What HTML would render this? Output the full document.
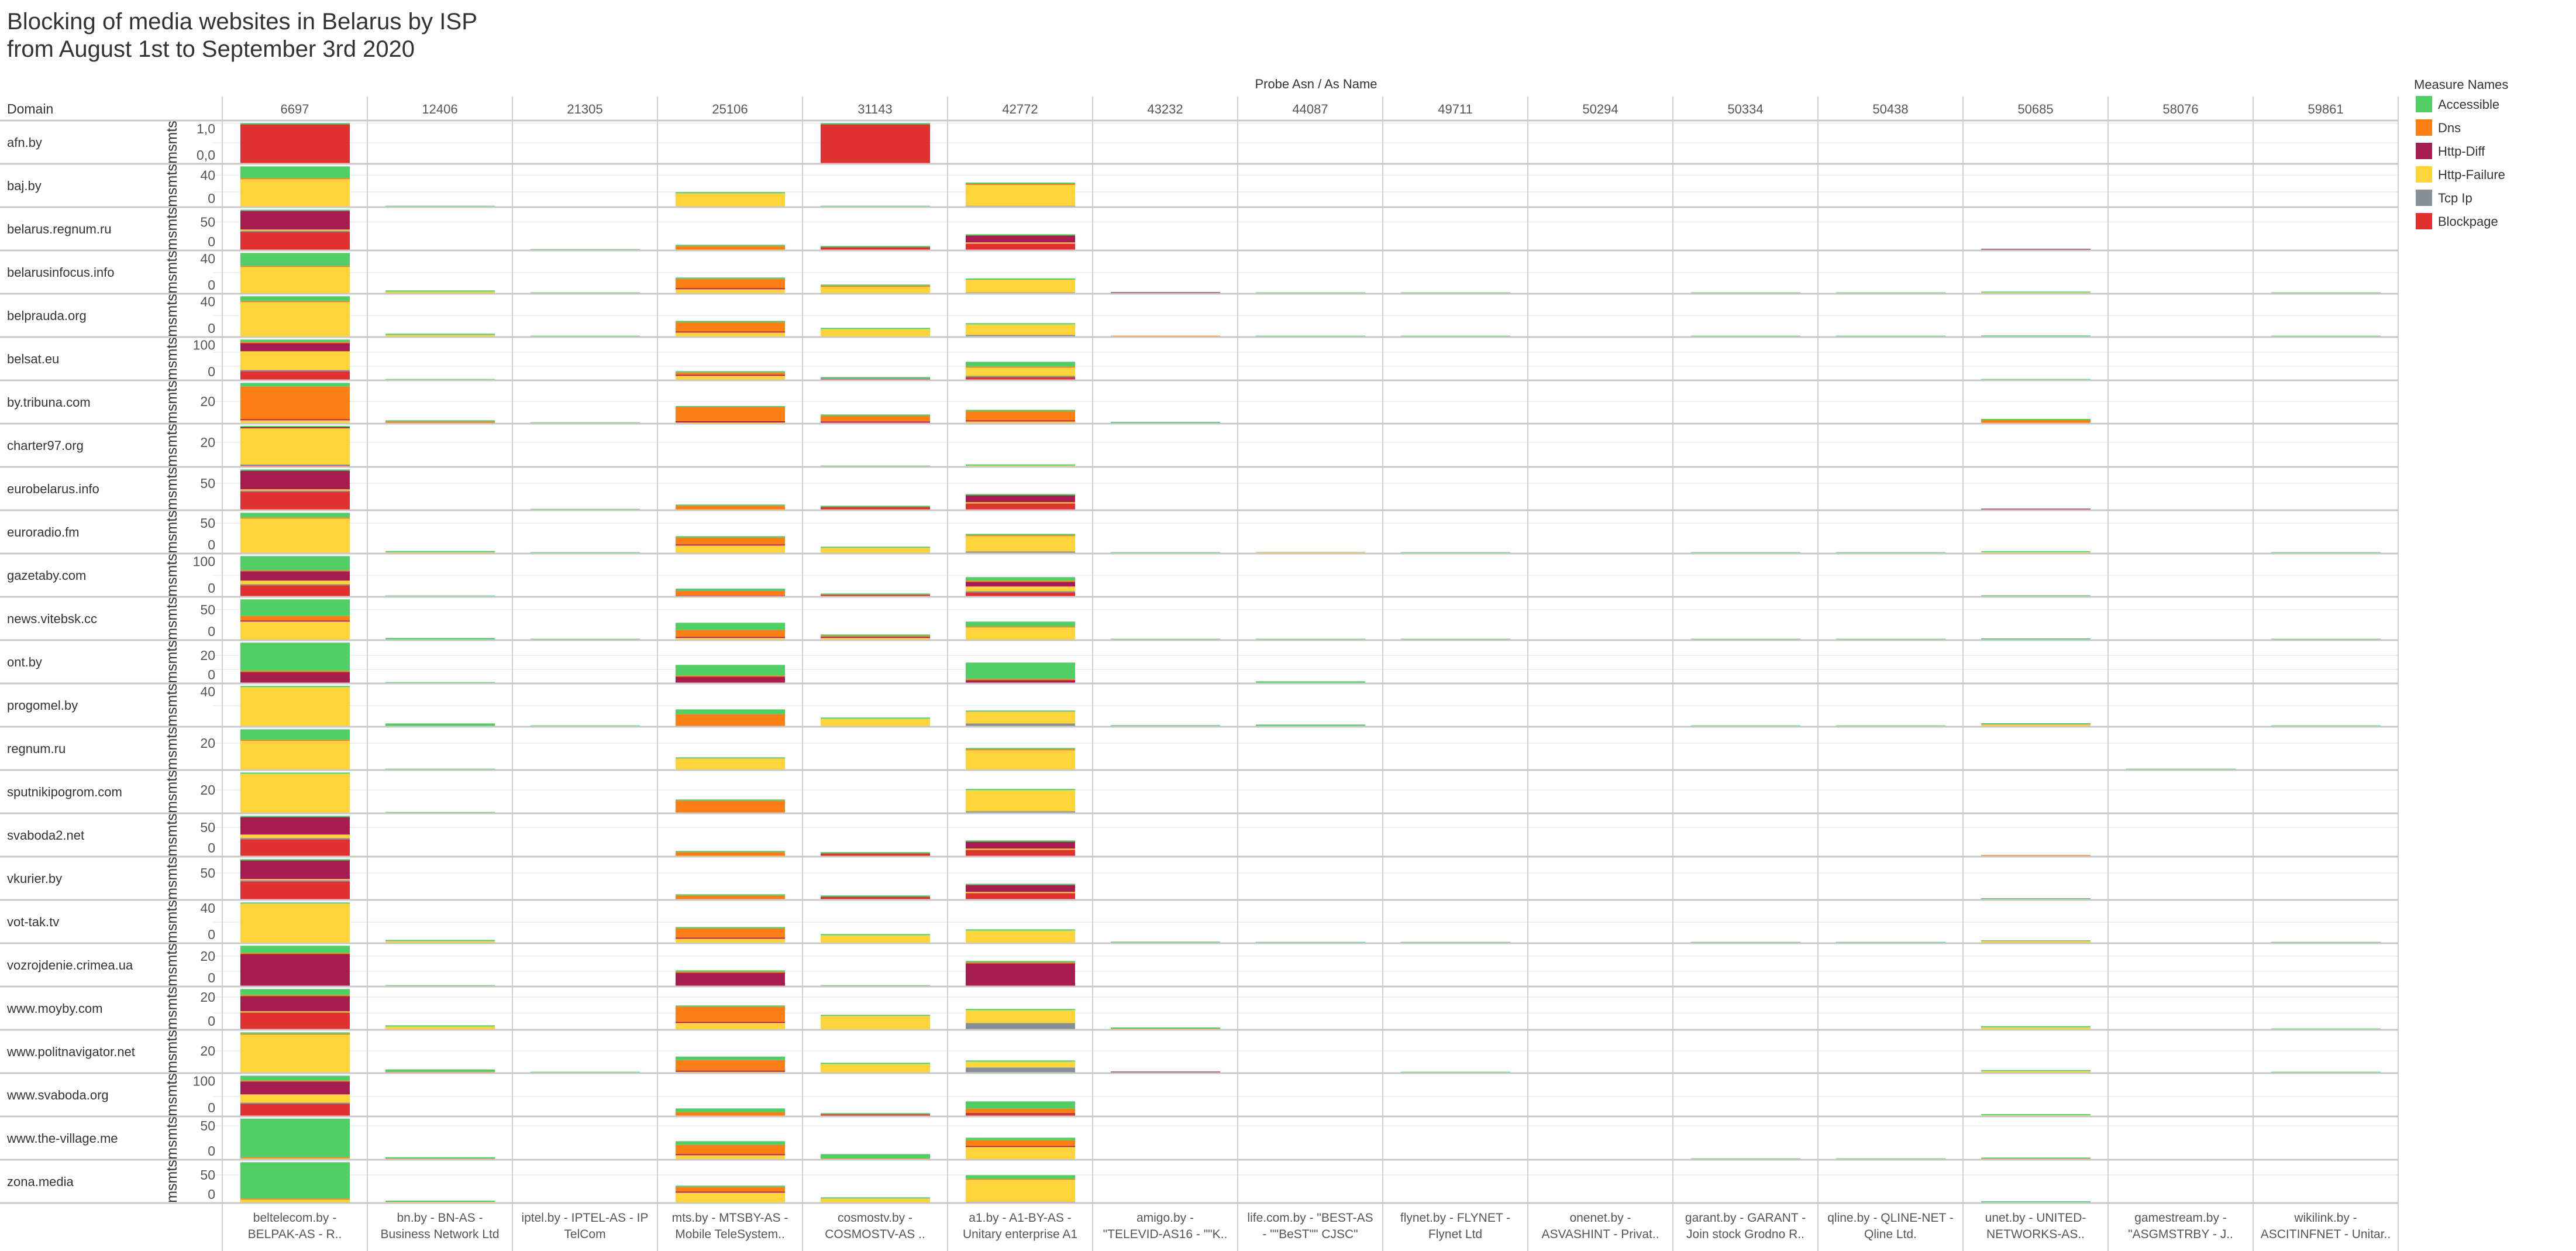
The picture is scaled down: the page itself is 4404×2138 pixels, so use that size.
<!DOCTYPE html>
<html><head><meta charset="utf-8">
<style>
html,body{margin:0;padding:0;background:#fff;}
svg{display:block;font-family:"Liberation Sans",sans-serif;}
</style></head>
<body>
<svg id="s" xmlns="http://www.w3.org/2000/svg" width="4404" height="2138" viewBox="0 0 4404 2138">
<rect width="4404" height="2138" fill="#fff"/>
<text x="12" y="50" font-size="40" fill="#333" textLength="804" lengthAdjust="spacingAndGlyphs">Blocking of media websites in Belarus by ISP</text>
<text x="12" y="97" font-size="40" fill="#333" textLength="697" lengthAdjust="spacingAndGlyphs">from August 1st to September 3rd 2020</text>
<text x="2250" y="151" font-size="22" fill="#333" text-anchor="middle">Probe Asn  /  As Name</text>
<text x="12" y="194" font-size="23" fill="#333">Domain</text>
<text x="4127" y="152" font-size="22" fill="#333">Measure Names</text>
<g id="g"></g>
</svg>
<script>
var C={G:"#51cf66",O:"#fd7e14",P:"#a61e4d",Y:"#ffd43b",T:"#868e96",R:"#e03131"};
var rows=[
["afn.by","1,0","0,0",42,[14,114],{0:"R200G6",4:"R200G6"}],
["baj.by","40","0",58,[58,144],{0:"Y140O6G60",1:"G4",3:"Y68G6",4:"G4",5:"T4Y107O6G6"}],
["belarus.regnum.ru","50","0",76,[76],{0:"R92T6Y6P96G6",2:"G4",3:"O20G6",4:"R14G6",5:"R32Y6P36G6",12:"P5"}],
["belarusinfocus.info","40","0",42,[114],{0:"Y134O6G66",1:"Y8G6",2:"G4",3:"Y20P6O48G6",4:"Y32O6G6",5:"T4Y65G6",6:"P5",7:"G4",8:"G4",10:"G4",11:"G4",12:"Y4G4",14:"G4"}],
["belprauda.org","40","0",40,[112],{0:"Y176O6G24",1:"Y8G6",2:"G4",3:"Y20P6O48G6",4:"Y38G6",5:"T8Y54G6",6:"O4",7:"G4",8:"G4",10:"G4",11:"G4",12:"G5",14:"G4"}],
["belsat.eu","100","0",40,[78,150],{0:"R44T6Y96P42O6G12",1:"G4",3:"Y20P6O12G6",4:"R4T4G6",5:"R14T6Y42O6G24",12:"G4"}],
["by.tribuna.com","20","",108,[108],{0:"Y14P6O168G18",1:"O8G6",2:"G4",3:"Y3P6O72G6",4:"Y2P6O30G6",5:"Y8P6O48G6",6:"G6",12:"O15G6"}],
["charter97.org","20","",96,[96],{0:"R3T6Y186P6G6",4:"G4",5:"Y4G6"}],
["eurobelarus.info","50","",84,[84],{0:"R92T6Y6P96G6",2:"G4",3:"O20G6",4:"R14G6",5:"R32Y6P36G6",12:"P5"}],
["euroradio.fm","50","0",66,[66],{0:"Y176O6G24",1:"Y4G6",2:"G4",3:"Y38P6O36G6",4:"Y26G6",5:"T8Y78O6G6",6:"G4",7:"Y6",8:"G4",10:"G4",11:"G4",12:"Y5G4",14:"G4"}],
["gazetaby.com","100","0",40,[112],{0:"R56T6Y18P48O6G72",1:"G4",3:"P3O24G12",4:"R8G6",5:"R20T6Y24P24O6G18",12:"G5"}],
["news.vitebsk.cc","50","0",66,[66],{0:"Y92P6O24G84",1:"G8",2:"G4",3:"Y8P6O36G36",4:"Y8P6O6G6",5:"Y62O6G24",6:"G4",7:"G4",8:"G4",10:"G4",11:"G4",12:"G6",14:"G4"}],
["ont.by","20","0",78,[78,150],{0:"P56O6G144",1:"G4",3:"P32O6G54",5:"P14O6G84",7:"G8"}],
["progomel.by","40","",42,[114],{0:"Y200G6",1:"G14",2:"G4",3:"O62G24",4:"Y38G6",5:"T14Y60G6",6:"G5",7:"G8",10:"G4",11:"G4",12:"Y8O3G4",14:"G4"}],
["regnum.ru","20","",84,[84],{0:"Y146O6G54",1:"G4",3:"Y56G6",5:"Y98O6G6",13:"G4"}],
["sputnikipogrom.com","20","",102,[102],{0:"Y200G6",1:"G4",3:"O62G6",5:"T8Y108G6"}],
["svaboda2.net","50","0",72,[72],{0:"R86T6Y18P90G6",3:"O20G6",4:"R14G6",5:"R32Y6P36G6",12:"O5"}],
["vkurier.by","50","",84,[84],{0:"R92T6Y6P96G6",3:"O20G6",4:"R14G6",5:"R32Y6P36G6",12:"G6"}],
["vot-tak.tv","40","0",42,[114],{0:"Y200G6",1:"Y8G6",3:"Y20P6O48G6",4:"Y38G6",5:"Y62G6",6:"G5",7:"G4",8:"G4",10:"G4",11:"G4",12:"Y8G4",14:"G4"}],
["vozrojdenie.crimea.ua","20","0",66,[66,144],{0:"P164O6G36",1:"G4",3:"P68O6G6",4:"G4",5:"P116O6G6"}],
["www.moyby.com","20","0",54,[54,136],{0:"R86Y6P78O6G30",1:"Y14G6",3:"Y32P6O78G6",4:"Y68G6",5:"T32Y66G6",6:"O3G6",12:"Y10G6",14:"G4"}],
["www.politnavigator.net","20","",108,[108],{0:"Y194O6G6",1:"O4G12",2:"G4",3:"Y4P6O54G18",4:"Y44G6",5:"T26Y30G6",6:"P5",8:"G4",12:"Y8G5",14:"G4"}],
["www.svaboda.org","100","0",40,[120],{0:"R62T6Y42P66O6G24",3:"O20G18",4:"R8G6",5:"R8P6O24G36",12:"Y4G5"}],
["www.the-village.me","50","0",48,[48],{0:"Y4O6G198",1:"O4G6",3:"Y20P6O48G18",4:"O4G22",5:"Y62P6O30G12",10:"G4",11:"G4",12:"O4G4"}],
["zona.media","50","0",78,[78],{0:"Y14O6G186",1:"Y3G6",3:"Y50P6O24G6",4:"Y20G6",5:"T3Y113O6G18",12:"G6"}]
];
var heads=["6697","12406","21305","25106","31143","42772","43232","44087","49711","50294","50334","50438","50685","58076","59861"];
var bl=[["beltelecom.by -","BELPAK-AS - R.."],["bn.by - BN-AS -","Business Network Ltd"],["iptel.by - IPTEL-AS - IP","TelCom"],["mts.by - MTSBY-AS -","Mobile TeleSystem.."],["cosmostv.by -","COSMOSTV-AS .."],["a1.by - A1-BY-AS -","Unitary enterprise A1"],["amigo.by -","\"TELEVID-AS16 - \"\"K.."],["life.com.by - \"BEST-AS","- \"\"BeST\"\" CJSC\""],["flynet.by - FLYNET -","Flynet Ltd"],["onenet.by -","ASVASHINT - Privat.."],["garant.by - GARANT -","Join stock Grodno R.."],["qline.by - QLINE-NET -","Qline Ltd."],["unet.by - UNITED-","NETWORKS-AS.."],["gamestream.by -","\"ASGMSTRBY - J.."],["wikilink.by -","ASCITINFNET - Unitar.."]];
var X0=380,CW=248,Y0=206,RH=74;
var o=[];
function esc(s){return s.replace(/&/g,"&amp;").replace(/</g,"&lt;").replace(/"/g,"&quot;");}
rows.forEach(function(r,i){var t=Y0+i*RH;r[4].forEach(function(g){o.push('<rect x="364" y="'+(t+g/3-1)+'" width="3736" height="2" fill="#f0f0f0"/>');});});
for(var c=0;c<=15;c++){var x=X0+c*CW;o.push('<rect x="'+(x-1)+'" y="165" width="2" height="1973" fill="#d0d0d0"/>');}
heads.forEach(function(h,c){o.push('<text x="'+(X0+c*CW+CW/2)+'" y="194" font-size="22" fill="#555" text-anchor="middle">'+h+'</text>');});
rows.forEach(function(r,i){var t=Y0+i*RH;var bot=t+73;
 for(var k in r[5]){var s=r[5][k];var re=/([GOPYTR])(\d+)/g,m;var y=bot;var x=X0+(+k)*CW+31;
  while((m=re.exec(s))){var h=(+m[2])/3;y-=h;o.push('<rect x="'+x+'" y="'+y.toFixed(2)+'" width="187" height="'+h.toFixed(2)+'" fill="'+C[m[1]]+'"/>');}}
 o.push('<text x="12" y="'+(t+RH/2+8)+'" font-size="22" fill="#333">'+esc(r[0])+'</text>');
 o.push('<text transform="translate(302,'+(t+RH/2)+') rotate(-90)" font-size="25" fill="#333" text-anchor="middle">msmts</text>');
 o.push('<text x="368" y="'+(t+r[3]/3+8)+'" font-size="23" fill="#555" text-anchor="end">'+r[1]+'</text>');
 if(r[2])o.push('<text x="368" y="'+(t+59+8)+'" font-size="23" fill="#555" text-anchor="end">'+r[2]+'</text>');
});
for(var i=0;i<=25;i++){var y=Y0+i*RH;o.push('<rect x="0" y="'+(y-1.5)+'" width="4100" height="3" fill="#c8c8c8"/>');}
bl.forEach(function(b,c){var cx=X0+c*CW+CW/2;o.push('<text x="'+cx+'" y="2088" font-size="21" fill="#555" text-anchor="middle">'+esc(b[0])+'</text>');o.push('<text x="'+cx+'" y="2116" font-size="21" fill="#555" text-anchor="middle">'+esc(b[1])+'</text>');});
[["G","Accessible"],["O","Dns"],["P","Http-Diff"],["Y","Http-Failure"],["T","Tcp Ip"],["R","Blockpage"]].forEach(function(l,i){var y=164+40*i;o.push('<rect x="4130" y="'+y+'" width="28" height="28" fill="'+C[l[0]]+'"/>');o.push('<text x="4168" y="'+(y+22)+'" font-size="22" fill="#333">'+l[1]+'</text>');});
document.getElementById("g").innerHTML=o.join("");
</script>
</body></html>
